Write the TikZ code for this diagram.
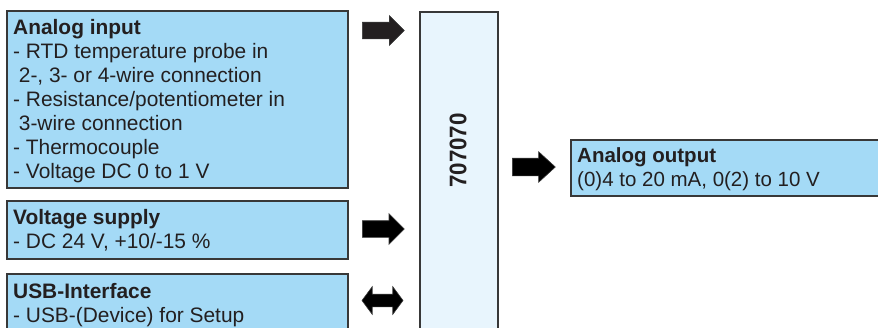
\documentclass[tikz,border=0pt]{standalone}
\usepackage{fontspec}
\setmainfont{Liberation Sans}
\usetikzlibrary{shapes.arrows}
\definecolor{boxblue}{HTML}{A4DAF6}
\definecolor{paleblue}{HTML}{E8F5FD}
\definecolor{edgegray}{HTML}{383838}
\definecolor{inkgray}{HTML}{231F20}
\tikzset{
  bluebox/.style={draw=edgegray, line width=1.8pt, fill=boxblue, rectangle, inner sep=0pt, anchor=north west},
  mainbox/.style={draw=edgegray, line width=1.8pt, fill=paleblue, rectangle, inner sep=0pt, anchor=north west},
  txt/.style={anchor=north west, inner sep=0pt, align=left, text=inkgray, font=\fontsize{20.9}{24}\selectfont},
  blockarrow/.style={single arrow, draw=edgegray, line width=0.6pt, fill=black, inner xsep=0pt, minimum height=42pt, single arrow head indent=0pt, anchor=tail},
  dblarrow/.style={double arrow, draw=edgegray, line width=0.6pt, fill=black, inner xsep=0pt, minimum height=41pt, double arrow head indent=0pt}
}
\begin{document}
\begin{tikzpicture}[x=1pt,y=-1pt]
\useasboundingbox (0,0) rectangle (878,327);
% boxes
\node[bluebox, minimum width=341pt, minimum height=177pt] (ain) at (6,10) {};
\node[bluebox, minimum width=341pt, minimum height=58pt] (vs) at (6,200) {};
\node[bluebox, minimum width=341pt, minimum height=70pt] (usb) at (6,273) {};
\node[mainbox, minimum width=78pt, minimum height=340pt] (dev) at (419,11) {};
\node[bluebox, minimum width=320pt, minimum height=56pt] (aout) at (570,139) {};
% texts
\node[txt] (aintxt) at (13,17.2) {\strut\textbf{Analog input}\\
- RTD temperature probe in\\
\hspace*{5.7pt}2-, 3- or 4-wire connection\\
- Resistance/potentiometer in\\
\hspace*{5.7pt}3-wire connection\\
- Thermocouple\\
- Voltage DC 0 to 1 V};
\node[txt] (vstxt) at (13,207.2) {\strut\textbf{Voltage supply}\\
- DC 24 V, +10/-15 \%};
\node[txt] (usbtxt) at (13,281.2) {\strut\textbf{USB-Interface}\\
- USB-(Device) for Setup};
\node[txt, font=\fontsize{20.5}{24}\selectfont] (aouttxt) at (577,145.2) {\strut\textbf{Analog output}\\
(0)4 to 20 mA, 0(2) to 10 V};
\node[rotate=90, inner sep=0pt, text=inkgray, font=\fontsize{24}{28}\selectfont\bfseries] (devlabel) at (458,150.5) {\scalebox{0.93}[1]{707070}};
% arrows
\node[blockarrow, inner ysep=8pt, single arrow head extend=6.5pt, fill=inkgray] (a1) at (362,30.5) {};
\node[blockarrow, inner ysep=8pt, single arrow head extend=7pt] (a2) at (362,229) {};
\node[dblarrow, inner ysep=6pt, double arrow head extend=7.5pt, double arrow tip angle=107] (a3) at (382.5,300.5) {};
\node[blockarrow, inner ysep=8.5pt, single arrow head extend=6.5pt, minimum height=43pt, single arrow tip angle=85] (a4) at (512,167) {};
\end{tikzpicture}
\end{document}
